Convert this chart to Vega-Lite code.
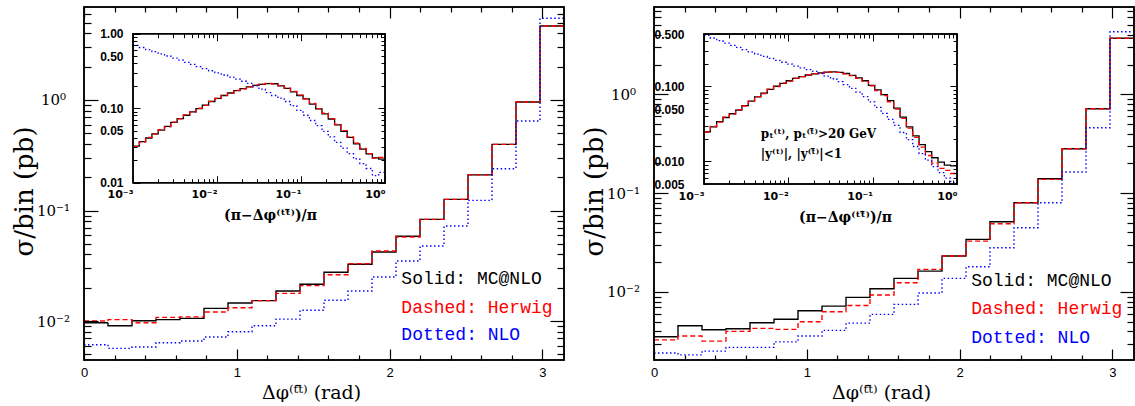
{
  "$schema": "https://vega.github.io/schema/vega-lite/v6.json",
  "background": "white",
  "padding": {"left": 11, "top": 6, "right": 0, "bottom": 0},
  "bounds": "flush",
  "spacing": 90,
  "config": {"view": {"stroke": null}, "axis": {"grid": false, "labelColor": "black", "titleColor": "black", "tickColor": "black"}},
  "datasets": {
    "mainL": [
      {"x": 0, "mc": 0.00966, "hw": 0.0100, "nlo": 0.00611},
      {"x": 0.15708, "mc": 0.00907, "hw": 0.0103, "nlo": 0.00566},
      {"x": 0.31416, "mc": 0.01006, "hw": 0.00966, "nlo": 0.00582},
      {"x": 0.47124, "mc": 0.0103, "hw": 0.0108, "nlo": 0.00637},
      {"x": 0.62832, "mc": 0.01057, "hw": 0.0109, "nlo": 0.00659},
      {"x": 0.7854, "mc": 0.01303, "hw": 0.01206, "nlo": 0.00716},
      {"x": 0.94248, "mc": 0.01455, "hw": 0.0132, "nlo": 0.0080},
      {"x": 1.09956, "mc": 0.0153, "hw": 0.0153, "nlo": 0.00907},
      {"x": 1.25664, "mc": 0.0187, "hw": 0.0178, "nlo": 0.0104},
      {"x": 1.41372, "mc": 0.0215, "hw": 0.0209, "nlo": 0.0125},
      {"x": 1.5708, "mc": 0.0276, "hw": 0.0262, "nlo": 0.0154},
      {"x": 1.72788, "mc": 0.0326, "hw": 0.0330, "nlo": 0.0187},
      {"x": 1.88496, "mc": 0.0421, "hw": 0.0430, "nlo": 0.0250},
      {"x": 2.04204, "mc": 0.0584, "hw": 0.0576, "nlo": 0.0349},
      {"x": 2.19911, "mc": 0.0832, "hw": 0.0832, "nlo": 0.0477},
      {"x": 2.35619, "mc": 0.126, "hw": 0.126, "nlo": 0.0724},
      {"x": 2.51327, "mc": 0.210, "hw": 0.210, "nlo": 0.1236},
      {"x": 2.67035, "mc": 0.397, "hw": 0.397, "nlo": 0.239},
      {"x": 2.82743, "mc": 0.959, "hw": 0.959, "nlo": 0.646},
      {"x": 2.98451, "mc": 4.67, "hw": 4.67, "nlo": 5.49},
      {"x": 3.14159, "mc": 4.67, "hw": 4.67, "nlo": 5.49}
    ],
    "mainR": [
      {"x": 0, "mc": 0.00352, "hw": 0.00328, "nlo": 0.00241},
      {"x": 0.15708, "mc": 0.00455, "hw": 0.00358, "nlo": 0.00231},
      {"x": 0.31416, "mc": 0.00415, "hw": 0.00318, "nlo": 0.00252},
      {"x": 0.47124, "mc": 0.00425, "hw": 0.00399, "nlo": 0.00275},
      {"x": 0.62832, "mc": 0.00489, "hw": 0.00428, "nlo": 0.00275},
      {"x": 0.7854, "mc": 0.00529, "hw": 0.00418, "nlo": 0.00313},
      {"x": 0.94248, "mc": 0.00646, "hw": 0.00500, "nlo": 0.00358},
      {"x": 1.09956, "mc": 0.00720, "hw": 0.00631, "nlo": 0.00409},
      {"x": 1.25664, "mc": 0.00881, "hw": 0.00731, "nlo": 0.00484},
      {"x": 1.41372, "mc": 0.01077, "hw": 0.00931, "nlo": 0.00593},
      {"x": 1.5708, "mc": 0.01374, "hw": 0.01240, "nlo": 0.00749},
      {"x": 1.72788, "mc": 0.01627, "hw": 0.01694, "nlo": 0.00975},
      {"x": 1.88496, "mc": 0.0231, "hw": 0.0231, "nlo": 0.01374},
      {"x": 2.04204, "mc": 0.0341, "hw": 0.0327, "nlo": 0.0180},
      {"x": 2.19911, "mc": 0.0514, "hw": 0.0490, "nlo": 0.0280},
      {"x": 2.35619, "mc": 0.0800, "hw": 0.0800, "nlo": 0.0447},
      {"x": 2.51327, "mc": 0.140, "hw": 0.138, "nlo": 0.080},
      {"x": 2.67035, "mc": 0.281, "hw": 0.281, "nlo": 0.1636},
      {"x": 2.82743, "mc": 0.715, "hw": 0.715, "nlo": 0.459},
      {"x": 2.98451, "mc": 3.69, "hw": 3.69, "nlo": 4.30},
      {"x": 3.14159, "mc": 3.69, "hw": 3.69, "nlo": 4.30}
    ],
    "insetL": [
      {"x": 0.001, "mc": 0.0309, "hw": 0.0305, "nlo": 0.697},
      {"x": 0.001189, "mc": 0.0355, "hw": 0.0352, "nlo": 0.653},
      {"x": 0.001413, "mc": 0.0398, "hw": 0.0405, "nlo": 0.611},
      {"x": 0.001679, "mc": 0.0452, "hw": 0.0448, "nlo": 0.573},
      {"x": 0.001995, "mc": 0.0507, "hw": 0.0515, "nlo": 0.536},
      {"x": 0.002371, "mc": 0.0569, "hw": 0.0562, "nlo": 0.502},
      {"x": 0.002818, "mc": 0.0646, "hw": 0.0652, "nlo": 0.471},
      {"x": 0.00335, "mc": 0.0724, "hw": 0.0718, "nlo": 0.441},
      {"x": 0.003981, "mc": 0.0804, "hw": 0.0812, "nlo": 0.413},
      {"x": 0.004732, "mc": 0.0891, "hw": 0.0885, "nlo": 0.387},
      {"x": 0.005623, "mc": 0.0989, "hw": 0.0998, "nlo": 0.362},
      {"x": 0.006683, "mc": 0.1096, "hw": 0.1090, "nlo": 0.340},
      {"x": 0.007943, "mc": 0.1230, "hw": 0.1238, "nlo": 0.318},
      {"x": 0.009441, "mc": 0.1355, "hw": 0.1350, "nlo": 0.298},
      {"x": 0.01122, "mc": 0.148, "hw": 0.149, "nlo": 0.279},
      {"x": 0.01334, "mc": 0.160, "hw": 0.159, "nlo": 0.262},
      {"x": 0.01585, "mc": 0.172, "hw": 0.173, "nlo": 0.245},
      {"x": 0.01884, "mc": 0.183, "hw": 0.182, "nlo": 0.230},
      {"x": 0.02239, "mc": 0.193, "hw": 0.194, "nlo": 0.215},
      {"x": 0.02661, "mc": 0.202, "hw": 0.204, "nlo": 0.1995},
      {"x": 0.03162, "mc": 0.209, "hw": 0.211, "nlo": 0.180},
      {"x": 0.03758, "mc": 0.214, "hw": 0.215, "nlo": 0.162},
      {"x": 0.04467, "mc": 0.213, "hw": 0.212, "nlo": 0.148},
      {"x": 0.05309, "mc": 0.1995, "hw": 0.201, "nlo": 0.1365},
      {"x": 0.0631, "mc": 0.184, "hw": 0.186, "nlo": 0.123},
      {"x": 0.07499, "mc": 0.166, "hw": 0.168, "nlo": 0.108},
      {"x": 0.08913, "mc": 0.148, "hw": 0.150, "nlo": 0.0933},
      {"x": 0.1059, "mc": 0.133, "hw": 0.134, "nlo": 0.0804},
      {"x": 0.1259, "mc": 0.1135, "hw": 0.116, "nlo": 0.0684},
      {"x": 0.1496, "mc": 0.0977, "hw": 0.0985, "nlo": 0.0582},
      {"x": 0.1778, "mc": 0.0841, "hw": 0.0860, "nlo": 0.0490},
      {"x": 0.2113, "mc": 0.0716, "hw": 0.0725, "nlo": 0.0412},
      {"x": 0.2512, "mc": 0.0596, "hw": 0.0605, "nlo": 0.0347},
      {"x": 0.2985, "mc": 0.0490, "hw": 0.0500, "nlo": 0.0292},
      {"x": 0.3548, "mc": 0.0407, "hw": 0.0412, "nlo": 0.0245},
      {"x": 0.4217, "mc": 0.0331, "hw": 0.0340, "nlo": 0.0209},
      {"x": 0.5012, "mc": 0.0282, "hw": 0.0288, "nlo": 0.0180},
      {"x": 0.5957, "mc": 0.0243, "hw": 0.0246, "nlo": 0.0155},
      {"x": 0.7079, "mc": 0.0216, "hw": 0.0214, "nlo": 0.01245},
      {"x": 0.8414, "mc": 0.0207, "hw": 0.0218, "nlo": 0.0138},
      {"x": 1.0, "mc": 0.0207, "hw": 0.0218, "nlo": 0.0138}
    ],
    "insetR": [
      {"x": 0.001, "mc": 0.0248, "hw": 0.0245, "nlo": 0.479},
      {"x": 0.001189, "mc": 0.0288, "hw": 0.0292, "nlo": 0.442},
      {"x": 0.001413, "mc": 0.0339, "hw": 0.0335, "nlo": 0.407},
      {"x": 0.001679, "mc": 0.0385, "hw": 0.0390, "nlo": 0.378},
      {"x": 0.001995, "mc": 0.0432, "hw": 0.0428, "nlo": 0.353},
      {"x": 0.002371, "mc": 0.0484, "hw": 0.0490, "nlo": 0.331},
      {"x": 0.002818, "mc": 0.0556, "hw": 0.0548, "nlo": 0.309},
      {"x": 0.00335, "mc": 0.0638, "hw": 0.0630, "nlo": 0.288},
      {"x": 0.003981, "mc": 0.0724, "hw": 0.0730, "nlo": 0.269},
      {"x": 0.004732, "mc": 0.0813, "hw": 0.0805, "nlo": 0.251},
      {"x": 0.005623, "mc": 0.0912, "hw": 0.0920, "nlo": 0.236},
      {"x": 0.006683, "mc": 0.1005, "hw": 0.0998, "nlo": 0.223},
      {"x": 0.007943, "mc": 0.1096, "hw": 0.1105, "nlo": 0.210},
      {"x": 0.009441, "mc": 0.119, "hw": 0.118, "nlo": 0.198},
      {"x": 0.01122, "mc": 0.128, "hw": 0.129, "nlo": 0.187},
      {"x": 0.01334, "mc": 0.1355, "hw": 0.135, "nlo": 0.177},
      {"x": 0.01585, "mc": 0.142, "hw": 0.143, "nlo": 0.1675},
      {"x": 0.01884, "mc": 0.147, "hw": 0.148, "nlo": 0.1585},
      {"x": 0.02239, "mc": 0.152, "hw": 0.151, "nlo": 0.1486},
      {"x": 0.02661, "mc": 0.155, "hw": 0.156, "nlo": 0.1374},
      {"x": 0.03162, "mc": 0.156, "hw": 0.155, "nlo": 0.1265},
      {"x": 0.03758, "mc": 0.154, "hw": 0.154, "nlo": 0.116},
      {"x": 0.04467, "mc": 0.1486, "hw": 0.147, "nlo": 0.106},
      {"x": 0.05309, "mc": 0.1406, "hw": 0.139, "nlo": 0.0944},
      {"x": 0.0631, "mc": 0.130, "hw": 0.128, "nlo": 0.0841},
      {"x": 0.07499, "mc": 0.119, "hw": 0.117, "nlo": 0.0733},
      {"x": 0.08913, "mc": 0.1035, "hw": 0.102, "nlo": 0.0624},
      {"x": 0.1059, "mc": 0.0902, "hw": 0.088, "nlo": 0.0525},
      {"x": 0.1259, "mc": 0.0776, "hw": 0.0755, "nlo": 0.0437},
      {"x": 0.1496, "mc": 0.0646, "hw": 0.0625, "nlo": 0.0363},
      {"x": 0.1778, "mc": 0.0513, "hw": 0.0500, "nlo": 0.0302},
      {"x": 0.2113, "mc": 0.0389, "hw": 0.0375, "nlo": 0.0243},
      {"x": 0.2512, "mc": 0.0288, "hw": 0.0278, "nlo": 0.0195},
      {"x": 0.2985, "mc": 0.0219, "hw": 0.0209, "nlo": 0.0158},
      {"x": 0.3548, "mc": 0.0168, "hw": 0.0155, "nlo": 0.0127},
      {"x": 0.4217, "mc": 0.0135, "hw": 0.0120, "nlo": 0.0104},
      {"x": 0.5012, "mc": 0.0112, "hw": 0.0095, "nlo": 0.0085},
      {"x": 0.5957, "mc": 0.0098, "hw": 0.0081, "nlo": 0.0071},
      {"x": 0.7079, "mc": 0.0089, "hw": 0.0076, "nlo": 0.0060},
      {"x": 0.8414, "mc": 0.0087, "hw": 0.0069, "nlo": 0.00525},
      {"x": 1.0, "mc": 0.0087, "hw": 0.0069, "nlo": 0.00525}
    ]
  },
  "hconcat": [
    {
      "width": 480,
      "height": 353,
      "layer": [
        {
          "layer": [
            {
              "data": {"name": "mainL"},
              "transform": [{"fold": ["mc", "hw", "nlo"], "as": ["series", "value"]}],
              "mark": {"type": "line", "interpolate": "step-after", "strokeWidth": 1.4},
              "encoding": {
                "x": {"field": "x", "type": "quantitative", "scale": {"domain": [0, 3.14159], "nice": false, "zero": false},
                  "axis": {"orient": "bottom", "values": [0, 1, 2, 3], "ticks": false, "domain": false, "grid": false, "labelPadding": 6, "labelFont": "Liberation Sans", "labelFontSize": 13, "labelFlush": false, "labelAngle": 0, "title": "Δφ⁽ᵗᵗ̄⁾ (rad)", "titleFont": "DejaVu Serif", "titleFontSize": 19, "titleFontWeight": "normal", "titleX": 227, "titleY": 38, "titleAlign": "center", "titleBaseline": "alphabetic", "zindex": 1}},
                "y": {"field": "value", "type": "quantitative", "scale": {"type": "log", "domain": [0.00444, 6.94], "nice": false},
                  "axis": {"orient": "left", "values": [0.01, 0.1, 1], "ticks": false, "domain": false, "grid": false, "labelExpr": "datum.value == 1 ? '10⁰' : datum.value == 0.1 ? '10⁻¹' : '10⁻²'", "labelAlign": "center", "labelBaseline": "middle", "labelPadding": 31, "labelFont": "DejaVu Serif", "labelFontSize": 15, "labelOverlap": false, "labelFlush": false, "title": "σ/bin (pb)", "titleFont": "DejaVu Serif", "titleFontSize": 26, "titleFontWeight": "normal", "titleAngle": -90, "titleX": -60, "titleY": 184, "titleAlign": "center", "titleBaseline": "middle", "zindex": 1}},
                "color": {"field": "series", "type": "nominal", "scale": {"domain": ["mc", "hw", "nlo"], "range": ["#000000", "#ff0000", "#0000ff"]}, "legend": null},
                "strokeDash": {"field": "series", "type": "nominal", "scale": {"domain": ["mc", "hw", "nlo"], "range": [[1, 0], [5, 3], [1.5, 2.5]]}, "legend": null}
              }
            },
            {
              "data": {"values": [{}]},
              "mark": {"type": "rect", "filled": false, "stroke": "black", "strokeWidth": 1.5},
              "encoding": {
                "x": {"datum": 0, "type": "quantitative", "axis": {"orient": "bottom", "values": [0, 0.2, 0.4, 0.6, 0.8, 1, 1.2, 1.4, 1.6, 1.8, 2, 2.2, 2.4, 2.6, 2.8, 3], "labels": false, "domain": false, "grid": false, "tickWidth": 1.2, "tickSize": {"condition": {"test": "abs(datum.value-round(datum.value))<1e-6", "value": -11}, "value": -5}, "title": null, "zindex": 1}},
                "x2": {"datum": 3.14159},
                "y": {"datum": 0.00444, "type": "quantitative", "axis": {"orient": "left", "values": [0.005, 0.006, 0.007, 0.008, 0.009, 0.01, 0.02, 0.03, 0.04, 0.05, 0.06, 0.07, 0.08, 0.09, 0.1, 0.2, 0.3, 0.4, 0.5, 0.6, 0.7, 0.8, 0.9, 1, 2, 3, 4, 5, 6], "labels": false, "domain": false, "grid": false, "tickWidth": 1.2, "tickSize": {"condition": {"test": "abs(log(datum.value)/LN10-round(log(datum.value)/LN10))<1e-6", "value": -14}, "value": -7}, "title": null, "zindex": 1}},
                "y2": {"datum": 6.94}
              }
            },
            {
              "data": {"values": [{}]},
              "mark": {"type": "rect", "filled": false, "stroke": "black", "strokeWidth": 1.5},
              "encoding": {
                "x": {"datum": 0, "type": "quantitative", "axis": {"orient": "top", "values": [0, 0.2, 0.4, 0.6, 0.8, 1, 1.2, 1.4, 1.6, 1.8, 2, 2.2, 2.4, 2.6, 2.8, 3], "labels": false, "domain": false, "grid": false, "tickWidth": 1.2, "tickSize": {"condition": {"test": "abs(datum.value-round(datum.value))<1e-6", "value": -11}, "value": -5}, "title": null, "zindex": 1}},
                "x2": {"datum": 3.14159},
                "y": {"datum": 0.00444, "type": "quantitative", "axis": {"orient": "right", "values": [0.005, 0.006, 0.007, 0.008, 0.009, 0.01, 0.02, 0.03, 0.04, 0.05, 0.06, 0.07, 0.08, 0.09, 0.1, 0.2, 0.3, 0.4, 0.5, 0.6, 0.7, 0.8, 0.9, 1, 2, 3, 4, 5, 6], "labels": false, "domain": false, "grid": false, "tickWidth": 1.2, "tickSize": {"condition": {"test": "abs(log(datum.value)/LN10-round(log(datum.value)/LN10))<1e-6", "value": -14}, "value": -7}, "title": null, "zindex": 1}},
                "y2": {"datum": 6.94}
              }
            },
            {
              "data": {"values": [{}]},
              "mark": {"type": "text", "align": "left", "baseline": "alphabetic", "font": "Liberation Mono", "fontSize": 18, "color": "#000000"},
              "encoding": {"x": {"datum": 2.077, "type": "quantitative", "axis": null}, "y": {"datum": 0.02162, "type": "quantitative", "axis": null}, "text": {"value": "Solid: MC@NLO"}}
            },
            {
              "data": {"values": [{}]},
              "mark": {"type": "text", "align": "left", "baseline": "alphabetic", "font": "Liberation Mono", "fontSize": 18, "color": "#ff0000"},
              "encoding": {"x": {"datum": 2.077, "type": "quantitative", "axis": null}, "y": {"datum": 0.0118, "type": "quantitative", "axis": null}, "text": {"value": "Dashed: Herwig"}}
            },
            {
              "data": {"values": [{}]},
              "mark": {"type": "text", "align": "left", "baseline": "alphabetic", "font": "Liberation Mono", "fontSize": 18, "color": "#0000ff"},
              "encoding": {"x": {"datum": 2.077, "type": "quantitative", "axis": null}, "y": {"datum": 0.00673, "type": "quantitative", "axis": null}, "text": {"value": "Dotted: NLO"}}
            }
          ],
          "resolve": {"axis": {"x": "independent", "y": "independent"}}
        },
        {
          "layer": [
            {
              "data": {"values": [{}]},
              "mark": {"type": "rect", "fill": "white", "stroke": "black", "strokeWidth": 1.5},
              "encoding": {
                "x": {"datum": 0.001, "type": "quantitative", "scale": {"type": "log", "domain": [0.001, 1], "range": [49, 301], "nice": false},
                  "axis": {"orient": "bottom", "offset": -177.3, "values": [0.001, 0.002, 0.003, 0.004, 0.005, 0.006, 0.007, 0.008, 0.009, 0.01, 0.02, 0.03, 0.04, 0.05, 0.06, 0.07, 0.08, 0.09, 0.1, 0.2, 0.3, 0.4, 0.5, 0.6, 0.7, 0.8, 0.9, 1], "labels": false, "domain": false, "grid": false, "tickWidth": 1, "tickSize": {"condition": {"test": "abs(log(datum.value)/LN10-round(log(datum.value)/LN10))<1e-6", "value": -7}, "value": -4}, "title": null, "zindex": 1}},
                "x2": {"datum": 1},
                "y": {"datum": 0.01, "type": "quantitative", "scale": {"type": "log", "domain": [0.01, 1], "range": [175.7, 26.7], "nice": false},
                  "axis": {"orient": "left", "offset": -49, "values": [0.01, 0.02, 0.03, 0.04, 0.05, 0.06, 0.07, 0.08, 0.09, 0.1, 0.2, 0.3, 0.4, 0.5, 0.6, 0.7, 0.8, 0.9, 1], "labels": false, "domain": false, "grid": false, "tickWidth": 1, "tickSize": {"condition": {"test": "abs(log(datum.value)/LN10-round(log(datum.value)/LN10))<1e-6", "value": -7}, "value": -4}, "title": null, "zindex": 1}},
                "y2": {"datum": 1}
              }
            },
            {
              "data": {"name": "insetL"},
              "transform": [{"fold": ["mc", "hw", "nlo"], "as": ["series", "value"]}],
              "mark": {"type": "line", "interpolate": "step-after", "strokeWidth": 1.3},
              "encoding": {
                "x": {"field": "x", "type": "quantitative",
                  "axis": {"orient": "bottom", "offset": -177.3, "values": [0.001, 0.01, 0.1, 1], "ticks": false, "domain": false, "grid": false, "labelExpr": "datum.value == 0.001 ? '10⁻³' : datum.value == 0.01 ? '10⁻²' : datum.value == 0.1 ? '10⁻¹' : '10⁰'", "labelAlign": "right", "labelBaseline": "top", "labelPadding": 6, "labelFont": "DejaVu Sans", "labelFontSize": 11, "labelFontWeight": "bold", "labelFlush": false, "labelOverlap": false, "labelAngle": 0, "title": "(π−Δφ⁽ᵗᵗ̄⁾)/π", "titleFont": "DejaVu Serif", "titleFontSize": 14, "titleFontWeight": "bold", "titleX": 186, "titleY": 37, "titleAlign": "center", "titleBaseline": "alphabetic", "zindex": 1}},
                "y": {"field": "value", "type": "quantitative",
                  "axis": {"orient": "left", "offset": -49, "values": [0.01, 0.05, 0.1, 0.5, 1], "format": ".2f", "ticks": false, "domain": false, "grid": false, "labelAlign": "right", "labelBaseline": "middle", "labelPadding": 10, "labelFont": "Liberation Sans", "labelFontSize": 12, "labelFontWeight": "bold", "labelFlush": false, "labelOverlap": false, "title": null, "zindex": 1}},
                "color": {"field": "series", "type": "nominal", "scale": {"domain": ["mc", "hw", "nlo"], "range": ["#000000", "#ff0000", "#0000ff"]}, "legend": null},
                "strokeDash": {"field": "series", "type": "nominal", "scale": {"domain": ["mc", "hw", "nlo"], "range": [[1, 0], [5, 3], [1.5, 2.5]]}, "legend": null}
              }
            },
            {
              "data": {"values": [{}]},
              "mark": {"type": "rect", "filled": false, "stroke": "black", "strokeWidth": 1.5},
              "encoding": {
                "x": {"datum": 0.001, "type": "quantitative",
                  "axis": {"orient": "top", "offset": -26.7, "values": [0.001, 0.002, 0.003, 0.004, 0.005, 0.006, 0.007, 0.008, 0.009, 0.01, 0.02, 0.03, 0.04, 0.05, 0.06, 0.07, 0.08, 0.09, 0.1, 0.2, 0.3, 0.4, 0.5, 0.6, 0.7, 0.8, 0.9, 1], "labels": false, "domain": false, "grid": false, "tickWidth": 1, "tickSize": {"condition": {"test": "abs(log(datum.value)/LN10-round(log(datum.value)/LN10))<1e-6", "value": -7}, "value": -4}, "title": null, "zindex": 1}},
                "x2": {"datum": 1},
                "y": {"datum": 0.01, "type": "quantitative",
                  "axis": {"orient": "right", "offset": -179, "values": [0.01, 0.02, 0.03, 0.04, 0.05, 0.06, 0.07, 0.08, 0.09, 0.1, 0.2, 0.3, 0.4, 0.5, 0.6, 0.7, 0.8, 0.9, 1], "labels": false, "domain": false, "grid": false, "tickWidth": 1, "tickSize": {"condition": {"test": "abs(log(datum.value)/LN10-round(log(datum.value)/LN10))<1e-6", "value": -7}, "value": -4}, "title": null, "zindex": 1}},
                "y2": {"datum": 1}
              }
            }
          ],
          "resolve": {"axis": {"x": "independent", "y": "independent"}}
        }
      ],
      "resolve": {"scale": {"x": "independent", "y": "independent"}, "axis": {"x": "independent", "y": "independent"}}
    },
    {
      "width": 480,
      "height": 353,
      "layer": [
        {
          "layer": [
            {
              "data": {"name": "mainR"},
              "transform": [{"fold": ["mc", "hw", "nlo"], "as": ["series", "value"]}],
              "mark": {"type": "line", "interpolate": "step-after", "strokeWidth": 1.4},
              "encoding": {
                "x": {"field": "x", "type": "quantitative", "scale": {"domain": [0, 3.14159], "nice": false, "zero": false},
                  "axis": {"orient": "bottom", "values": [0, 1, 2, 3], "ticks": false, "domain": false, "grid": false, "labelPadding": 6, "labelFont": "Liberation Sans", "labelFontSize": 13, "labelFlush": false, "labelAngle": 0, "title": "Δφ⁽ᵗᵗ̄⁾ (rad)", "titleFont": "DejaVu Serif", "titleFontSize": 19, "titleFontWeight": "normal", "titleX": 227, "titleY": 38, "titleAlign": "center", "titleBaseline": "alphabetic", "zindex": 1}},
                "y": {"field": "value", "type": "quantitative", "scale": {"type": "log", "domain": [0.00205, 7.65], "nice": false},
                  "axis": {"orient": "left", "values": [0.01, 0.1, 1], "ticks": false, "domain": false, "grid": false, "labelExpr": "datum.value == 1 ? '10⁰' : datum.value == 0.1 ? '10⁻¹' : '10⁻²'", "labelAlign": "center", "labelBaseline": "middle", "labelPadding": 31, "labelFont": "DejaVu Serif", "labelFontSize": 15, "labelOverlap": false, "labelFlush": false, "title": "σ/bin (pb)", "titleFont": "DejaVu Serif", "titleFontSize": 26, "titleFontWeight": "normal", "titleAngle": -90, "titleX": -60, "titleY": 184, "titleAlign": "center", "titleBaseline": "middle", "zindex": 1}},
                "color": {"field": "series", "type": "nominal", "scale": {"domain": ["mc", "hw", "nlo"], "range": ["#000000", "#ff0000", "#0000ff"]}, "legend": null},
                "strokeDash": {"field": "series", "type": "nominal", "scale": {"domain": ["mc", "hw", "nlo"], "range": [[1, 0], [5, 3], [1.5, 2.5]]}, "legend": null}
              }
            },
            {
              "data": {"values": [{}]},
              "mark": {"type": "rect", "filled": false, "stroke": "black", "strokeWidth": 1.5},
              "encoding": {
                "x": {"datum": 0, "type": "quantitative", "axis": {"orient": "bottom", "values": [0, 0.2, 0.4, 0.6, 0.8, 1, 1.2, 1.4, 1.6, 1.8, 2, 2.2, 2.4, 2.6, 2.8, 3], "labels": false, "domain": false, "grid": false, "tickWidth": 1.2, "tickSize": {"condition": {"test": "abs(datum.value-round(datum.value))<1e-6", "value": -11}, "value": -5}, "title": null, "zindex": 1}},
                "x2": {"datum": 3.14159},
                "y": {"datum": 0.00205, "type": "quantitative", "axis": {"orient": "left", "values": [0.003, 0.004, 0.005, 0.006, 0.007, 0.008, 0.009, 0.01, 0.02, 0.03, 0.04, 0.05, 0.06, 0.07, 0.08, 0.09, 0.1, 0.2, 0.3, 0.4, 0.5, 0.6, 0.7, 0.8, 0.9, 1, 2, 3, 4, 5, 6, 7], "labels": false, "domain": false, "grid": false, "tickWidth": 1.2, "tickSize": {"condition": {"test": "abs(log(datum.value)/LN10-round(log(datum.value)/LN10))<1e-6", "value": -14}, "value": -7}, "title": null, "zindex": 1}},
                "y2": {"datum": 7.65}
              }
            },
            {
              "data": {"values": [{}]},
              "mark": {"type": "rect", "filled": false, "stroke": "black", "strokeWidth": 1.5},
              "encoding": {
                "x": {"datum": 0, "type": "quantitative", "axis": {"orient": "top", "values": [0, 0.2, 0.4, 0.6, 0.8, 1, 1.2, 1.4, 1.6, 1.8, 2, 2.2, 2.4, 2.6, 2.8, 3], "labels": false, "domain": false, "grid": false, "tickWidth": 1.2, "tickSize": {"condition": {"test": "abs(datum.value-round(datum.value))<1e-6", "value": -11}, "value": -5}, "title": null, "zindex": 1}},
                "x2": {"datum": 3.14159},
                "y": {"datum": 0.00205, "type": "quantitative", "axis": {"orient": "right", "values": [0.003, 0.004, 0.005, 0.006, 0.007, 0.008, 0.009, 0.01, 0.02, 0.03, 0.04, 0.05, 0.06, 0.07, 0.08, 0.09, 0.1, 0.2, 0.3, 0.4, 0.5, 0.6, 0.7, 0.8, 0.9, 1, 2, 3, 4, 5, 6, 7], "labels": false, "domain": false, "grid": false, "tickWidth": 1.2, "tickSize": {"condition": {"test": "abs(log(datum.value)/LN10-round(log(datum.value)/LN10))<1e-6", "value": -14}, "value": -7}, "title": null, "zindex": 1}},
                "y2": {"datum": 7.65}
              }
            },
            {
              "data": {"values": [{}]},
              "mark": {"type": "text", "align": "left", "baseline": "alphabetic", "font": "Liberation Mono", "fontSize": 18, "color": "#000000"},
              "encoding": {"x": {"datum": 2.076, "type": "quantitative", "axis": null}, "y": {"datum": 0.01147, "type": "quantitative", "axis": null}, "text": {"value": "Solid: MC@NLO"}}
            },
            {
              "data": {"values": [{}]},
              "mark": {"type": "text", "align": "left", "baseline": "alphabetic", "font": "Liberation Mono", "fontSize": 18, "color": "#ff0000"},
              "encoding": {"x": {"datum": 2.076, "type": "quantitative", "axis": null}, "y": {"datum": 0.00598, "type": "quantitative", "axis": null}, "text": {"value": "Dashed: Herwig"}}
            },
            {
              "data": {"values": [{}]},
              "mark": {"type": "text", "align": "left", "baseline": "alphabetic", "font": "Liberation Mono", "fontSize": 18, "color": "#0000ff"},
              "encoding": {"x": {"datum": 2.076, "type": "quantitative", "axis": null}, "y": {"datum": 0.00306, "type": "quantitative", "axis": null}, "text": {"value": "Dotted: NLO"}}
            }
          ],
          "resolve": {"axis": {"x": "independent", "y": "independent"}}
        },
        {
          "layer": [
            {
              "data": {"values": [{}]},
              "mark": {"type": "rect", "fill": "white", "stroke": "black", "strokeWidth": 1.5},
              "encoding": {
                "x": {"datum": 0.001, "type": "quantitative", "scale": {"type": "log", "domain": [0.001, 1], "range": [50, 303], "nice": false},
                  "axis": {"orient": "bottom", "offset": -176, "values": [0.001, 0.002, 0.003, 0.004, 0.005, 0.006, 0.007, 0.008, 0.009, 0.01, 0.02, 0.03, 0.04, 0.05, 0.06, 0.07, 0.08, 0.09, 0.1, 0.2, 0.3, 0.4, 0.5, 0.6, 0.7, 0.8, 0.9, 1], "labels": false, "domain": false, "grid": false, "tickWidth": 1, "tickSize": {"condition": {"test": "abs(log(datum.value)/LN10-round(log(datum.value)/LN10))<1e-6", "value": -7}, "value": -4}, "title": null, "zindex": 1}},
                "x2": {"datum": 1},
                "y": {"datum": 0.005, "type": "quantitative", "scale": {"type": "log", "domain": [0.005, 0.5], "range": [177, 27], "nice": false},
                  "axis": {"orient": "left", "offset": -50, "values": [0.005, 0.006, 0.007, 0.008, 0.009, 0.01, 0.02, 0.03, 0.04, 0.05, 0.06, 0.07, 0.08, 0.09, 0.1, 0.2, 0.3, 0.4, 0.5], "labels": false, "domain": false, "grid": false, "tickWidth": 1, "tickSize": {"condition": {"test": "abs(log(datum.value)/LN10-round(log(datum.value)/LN10))<1e-6", "value": -7}, "value": -4}, "title": null, "zindex": 1}},
                "y2": {"datum": 0.5}
              }
            },
            {
              "data": {"name": "insetR"},
              "transform": [{"fold": ["mc", "hw", "nlo"], "as": ["series", "value"]}],
              "mark": {"type": "line", "interpolate": "step-after", "strokeWidth": 1.3},
              "encoding": {
                "x": {"field": "x", "type": "quantitative",
                  "axis": {"orient": "bottom", "offset": -176, "values": [0.001, 0.01, 0.1, 1], "ticks": false, "domain": false, "grid": false, "labelExpr": "datum.value == 0.001 ? '10⁻³' : datum.value == 0.01 ? '10⁻²' : datum.value == 0.1 ? '10⁻¹' : '10⁰'", "labelAlign": "right", "labelBaseline": "top", "labelPadding": 6, "labelFont": "DejaVu Sans", "labelFontSize": 11, "labelFontWeight": "bold", "labelFlush": false, "labelOverlap": false, "labelAngle": 0, "title": "(π−Δφ⁽ᵗᵗ̄⁾)/π", "titleFont": "DejaVu Serif", "titleFontSize": 14, "titleFontWeight": "bold", "titleX": 191, "titleY": 37, "titleAlign": "center", "titleBaseline": "alphabetic", "zindex": 1}},
                "y": {"field": "value", "type": "quantitative",
                  "axis": {"orient": "left", "offset": -50, "values": [0.005, 0.01, 0.05, 0.1, 0.5], "format": ".3f", "ticks": false, "domain": false, "grid": false, "labelAlign": "right", "labelBaseline": "middle", "labelPadding": 20, "labelFont": "Liberation Sans", "labelFontSize": 12, "labelFontWeight": "bold", "labelFlush": false, "labelOverlap": false, "title": null, "zindex": 1}},
                "color": {"field": "series", "type": "nominal", "scale": {"domain": ["mc", "hw", "nlo"], "range": ["#000000", "#ff0000", "#0000ff"]}, "legend": null},
                "strokeDash": {"field": "series", "type": "nominal", "scale": {"domain": ["mc", "hw", "nlo"], "range": [[1, 0], [5, 3], [1.5, 2.5]]}, "legend": null}
              }
            },
            {
              "data": {"values": [{}]},
              "mark": {"type": "rect", "filled": false, "stroke": "black", "strokeWidth": 1.5},
              "encoding": {
                "x": {"datum": 0.001, "type": "quantitative",
                  "axis": {"orient": "top", "offset": -27, "values": [0.001, 0.002, 0.003, 0.004, 0.005, 0.006, 0.007, 0.008, 0.009, 0.01, 0.02, 0.03, 0.04, 0.05, 0.06, 0.07, 0.08, 0.09, 0.1, 0.2, 0.3, 0.4, 0.5, 0.6, 0.7, 0.8, 0.9, 1], "labels": false, "domain": false, "grid": false, "tickWidth": 1, "tickSize": {"condition": {"test": "abs(log(datum.value)/LN10-round(log(datum.value)/LN10))<1e-6", "value": -7}, "value": -4}, "title": null, "zindex": 1}},
                "x2": {"datum": 1},
                "y": {"datum": 0.005, "type": "quantitative",
                  "axis": {"orient": "right", "offset": -177, "values": [0.005, 0.006, 0.007, 0.008, 0.009, 0.01, 0.02, 0.03, 0.04, 0.05, 0.06, 0.07, 0.08, 0.09, 0.1, 0.2, 0.3, 0.4, 0.5], "labels": false, "domain": false, "grid": false, "tickWidth": 1, "tickSize": {"condition": {"test": "abs(log(datum.value)/LN10-round(log(datum.value)/LN10))<1e-6", "value": -7}, "value": -4}, "title": null, "zindex": 1}},
                "y2": {"datum": 0.5}
              }
            },
            {
              "data": {"values": [{}]},
              "mark": {"type": "text", "align": "left", "baseline": "alphabetic", "font": "DejaVu Serif", "fontSize": 12, "fontWeight": "bold", "lineHeight": 20, "color": "#000000"},
              "encoding": {"x": {"datum": 0.00471, "type": "quantitative", "axis": null}, "y": {"datum": 0.0207, "type": "quantitative", "axis": null}, "text": {"value": ["pₜ⁽ᵗ⁾, pₜ⁽ᵗ̄⁾>20 GeV", "|y⁽ᵗ⁾|, |y⁽ᵗ̄⁾|<1"]}}
            }
          ],
          "resolve": {"axis": {"x": "independent", "y": "independent"}}
        }
      ],
      "resolve": {"scale": {"x": "independent", "y": "independent"}, "axis": {"x": "independent", "y": "independent"}}
    }
  ]
}
